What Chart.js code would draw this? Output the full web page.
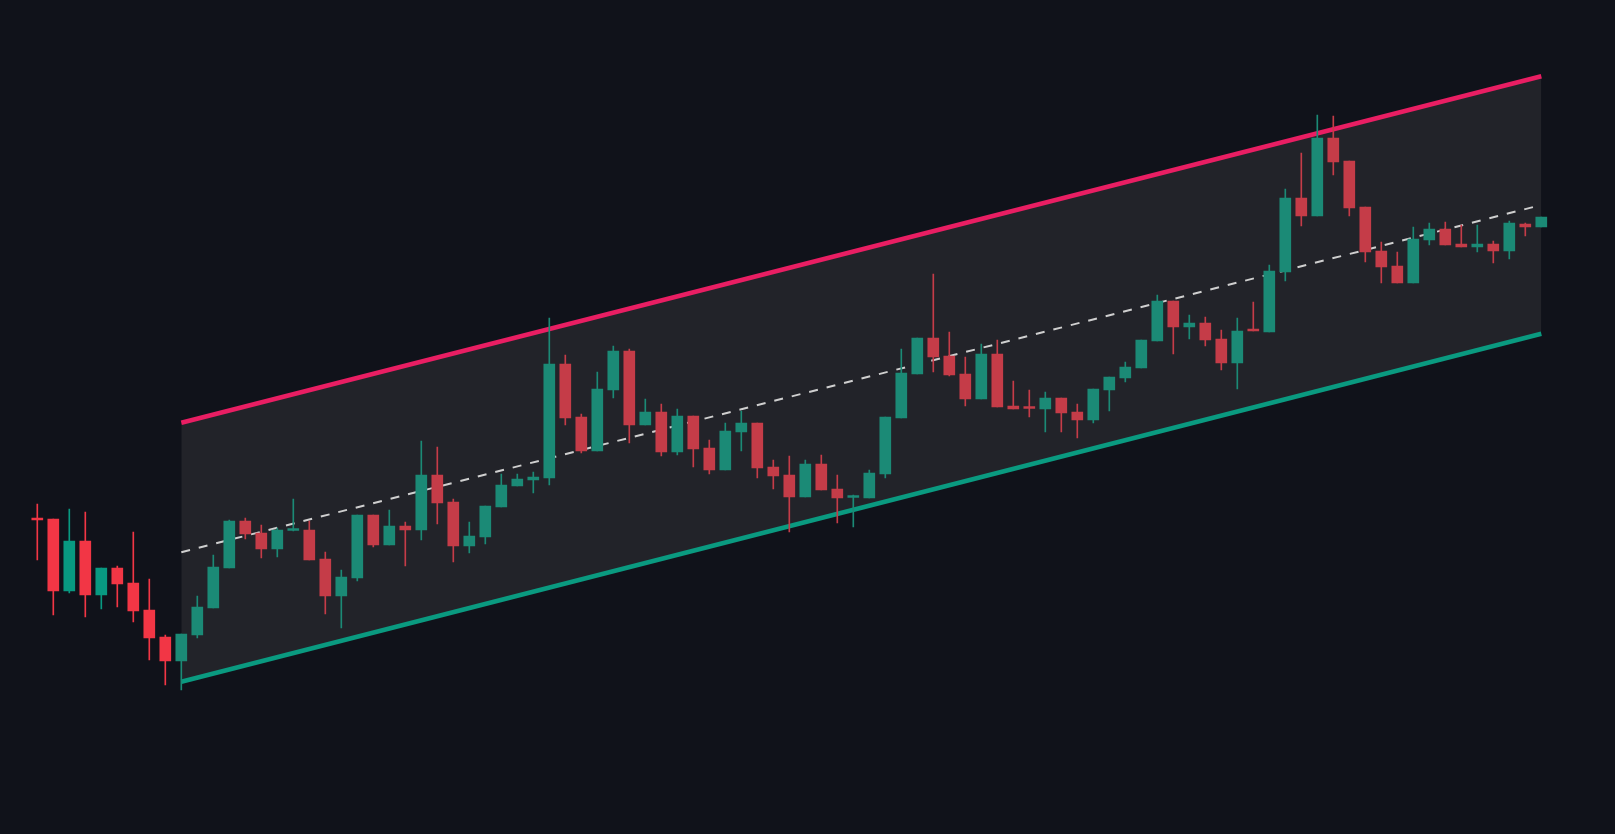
<!DOCTYPE html>
<html><head><meta charset="utf-8">
<script src="https://cdn.jsdelivr.net/npm/chart.js@4.4.1/dist/chart.umd.min.js"></script>
<style>html,body{margin:0;padding:0;background:#10121a;overflow:hidden}</style>
</head><body>
<canvas id="c" width="1615" height="834"></canvas>
<script>
const opens  = [315,315,243,293,239,266,251,224,197,173,199,226,266,313,301,285,303.5,304,275,238,256,319,289,308,304,359,332,288,297,327,348,354,356,470,417,383,444,483,409,422,382,418,386,364,402,411,367,359,337,370,345,336.5,336,360,416,460,496,478,460,435,480,428,426.5,425,436,422,414,444,456,466,493,533,507,511,495,471,503.5,502,562,636,618,696,673,627,583,568,551,594,605,590,587,590,583,610,607];
const highs  = [330,315,325,322,266,268,302,255,199,200,238,279,314,316,309,306,335,313,282,264,319,319,324,312,393,387,335,312,328,360,360,362,516,479,420,462,488,485,435,430,425,418,394,411,423,411,374,378,374,379,359,339,364,417,485,496,560,502,477,490,494,453,444,442,436,430,445,457,472,494,539,533,519,517,504,516,532,569,645,681,719,718,673,627,592,582,607,611,612,609,609,593,613,611,617];
const lows   = [274,219,241,217,225,227,212,174,149,144,196,226,266,295,276,277,303,274,220,206,253,287,289,268,294,310,272,281,290,327,348,341,349,409,381,383,436,391,409,378,379,367,360,364,383,356,345,302,337,344,311,307,336,356,416,460,462,458,428,435,427,425,417,402,402,396,411,423,452,466,493,480,495,488,464,445,503,502,553,608,618,659,618,572,551,551,551,589,589,587,582,571,575,598,607];
const closes = [314,243,293,239,266,250,223,196,173,200,227,267,313,300,285,304,304,274,238,257,319,289,308,304,359,331,288,298,328,349,355,357,470,416,383,445,483,409,422,382,418,385,364,403,411,366,358,337,370,344,336,337,361,417,461,496,477,459,435,480,427,425,425.5,436,421,414,445,457,467,494,533,507,511,494,471,503,503,563,636,618,696,672,626,582,567,551,595,605,589,587,590,583,611,607,617];
const channelStart = 9, channelEnd = 94;
const upperLine = [411.3, 757.8];
const lowerLine = [152.3, 500.3];
const midLine   = [281.8, 629.0];

const labels = opens.map((_, i) => String(i));
const inCh = i => i >= channelStart;
const isUp = i => closes[i] >= opens[i];
const col = i => isUp(i) ? (inCh(i) ? '#1b8a76' : '#089981') : (inCh(i) ? '#c53c48' : '#f23645');
const colors = opens.map((_, i) => col(i));
const pts = arr => [{x: channelStart, y: arr[0]}, {x: channelEnd, y: arr[1]}];

new Chart(document.getElementById('c'), {
  data: {
    labels,
    datasets: [
      {type:'line', xAxisID:'x2', data: pts(upperLine), borderColor:'#e91e63', borderWidth:4.5, pointRadius:0, fill:'+1', backgroundColor:'#222329', order:10},
      {type:'line', xAxisID:'x2', data: pts(lowerLine), borderColor:'#0a9a80', borderWidth:4.5, pointRadius:0, fill:false, order:9},
      {type:'line', xAxisID:'x2', data: pts(midLine), borderColor:'#cfcfcf', borderWidth:2, borderDash:[9,9], pointRadius:0, fill:false, order:8},
      {type:'bar', xAxisID:'x', data: lows.map((l, i) => [l, highs[i]]), backgroundColor: colors, barThickness:1, grouped:false, order:2},
      {type:'bar', xAxisID:'x', data: opens.map((o, i) => [Math.min(o, closes[i]), Math.max(o, closes[i])]), backgroundColor: colors, barThickness:11, minBarLength:2, grouped:false, order:1}
    ]
  },
  options: {
    responsive:false, animation:false, devicePixelRatio:1,
    layout:{padding:{left:29.3, right:65.7, top:0, bottom:0}},
    plugins:{legend:{display:false}, tooltip:{enabled:false}},
    scales:{
      x:{display:false, offset:true},
      x2:{type:'linear', display:false, min:-0.5, max:94.5},
      y:{display:false, min:0, max:834}
    }
  }
});
</script>
</body></html>
